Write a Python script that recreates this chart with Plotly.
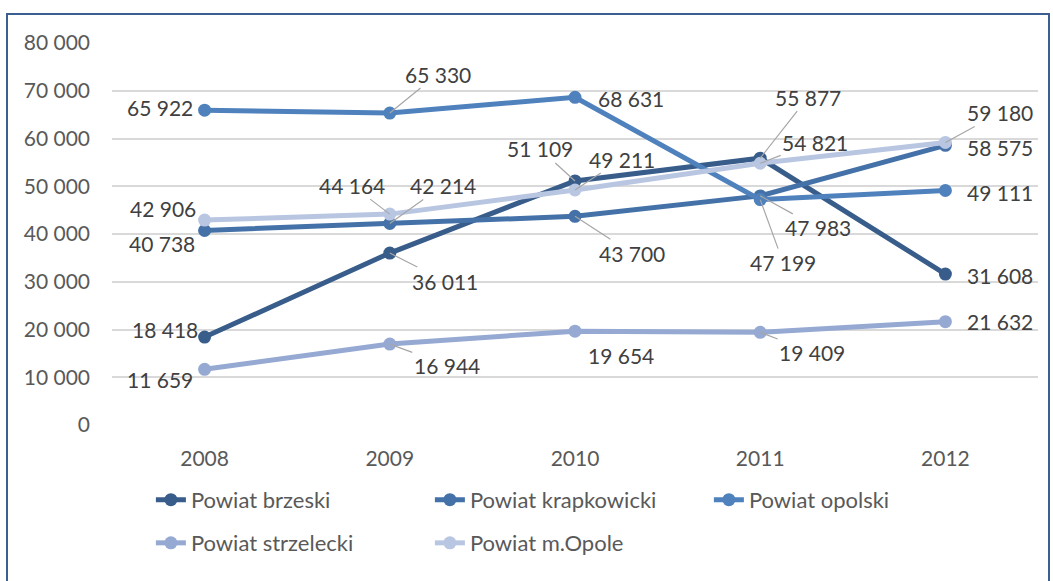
import plotly.graph_objects as go

years = ["2008", "2009", "2010", "2011", "2012"]
series_names = ["Powiat brzeski", "Powiat krapkowicki", "Powiat opolski",
                "Powiat strzelecki", "Powiat m.Opole"]
brzeski = [18418, 36011, 51109, 55877, 31608]
krapkowicki = [40738, 42214, 43700, 47983, 58575]
opolski = [65922, 65330, 68631, 47199, 49111]
strzelecki = [11659, 16944, 19654, 19409, 21632]
m_opole = [42906, 44164, 49211, 54821, 59180]
y_ticks = [0, 10000, 20000, 30000, 40000, 50000, 60000, 70000, 80000]

values = [brzeski, krapkowicki, opolski, strzelecki, m_opole]
colors = ["#385D8A", "#4471A7", "#4F81BD", "#95A9D3", "#B9C6E2"]
legend_ids = ["legend", "legend", "legend", "legend2", "legend2"]

# label placement (pixel offsets of label centre from the point; leader line flag)
label_offsets = [
    [(-40, -8, False), (55, 28, True), (-35, -32, True), (48, -61, True), (55, 1, False)],
    [(-43, 13, False), (53, -38, True), (57, 37, True), (58, 32, True), (55, 2, False)],
    [(-45, -3, False), (48, -39, True), (56, 1, False), (23, 63, True), (55, 2, False)],
    [(-45, 10, False), (57, 21, True), (46, 24, False), (52, 20, True), (55, 0, False)],
    [(-42, -12, False), (-38, -29, True), (47, -31, True), (55, -21, True), (55, -30, True)],
]

FONT = "Lato, 'Open Sans', sans-serif"
LABEL_COLOR = "#404040"
AXIS_COLOR = "#595959"

def fmt(v):
    return f"{v:,}".replace(",", " ")

fig = go.Figure()
for name, vals, col, lg in zip(series_names, values, colors, legend_ids):
    fig.add_trace(go.Scatter(
        x=years, y=vals, name=name, mode="lines+markers",
        line=dict(color=col, width=5),
        marker=dict(color=col, size=13),
        legend=lg,
    ))

annotations = []
for vals, offs in zip(values, label_offsets):
    for i, (v, (dx, dy, leader)) in enumerate(zip(vals, offs)):
        if leader:
            annotations.append(dict(
                x=i, y=v, xref="x", yref="y", text=fmt(v),
                showarrow=True, ax=dx, ay=dy, axref="pixel", ayref="pixel",
                arrowhead=0, arrowwidth=1.2, arrowcolor="#A6A6A6", standoff=0,
                font=dict(family=FONT, size=21, color=LABEL_COLOR),
            ))
        else:
            annotations.append(dict(
                x=i, y=v, xref="x", yref="y", text=fmt(v),
                showarrow=False, xshift=dx, yshift=-dy,
                font=dict(family=FONT, size=21, color=LABEL_COLOR),
            ))

fig.update_layout(
    width=1053, height=581,
    margin=dict(l=112, r=15, t=43, b=156, autoexpand=False),
    paper_bgcolor="white", plot_bgcolor="white",
    font=dict(family=FONT, size=21, color=AXIS_COLOR),
    xaxis=dict(
        type="category", range=[-0.5, 4.5], showgrid=False, zeroline=False,
        showline=False, ticks="", ticklabelstandoff=19,
        tickfont=dict(family=FONT, size=21, color=AXIS_COLOR),
    ),
    yaxis=dict(
        range=[0, 80000], tickvals=y_ticks, ticktext=[fmt(t) for t in y_ticks],
        showgrid=True, gridcolor="#D9D9D9", gridwidth=1.5, zeroline=False,
        showline=False, ticks="", ticklabelstandoff=21,
        tickfont=dict(family=FONT, size=21, color=AXIS_COLOR),
    ),
    legend=dict(
        orientation="h", x=0.042, y=-0.196, xanchor="left", yanchor="middle",
        entrywidth=234, entrywidthmode="pixels",
        font=dict(family=FONT, size=22, color=AXIS_COLOR),
        bgcolor="rgba(0,0,0,0)",
    ),
    legend2=dict(
        orientation="h", x=0.042, y=-0.309, xanchor="left", yanchor="middle",
        entrywidth=234, entrywidthmode="pixels",
        font=dict(family=FONT, size=22, color=AXIS_COLOR),
        bgcolor="rgba(0,0,0,0)",
    ),
    annotations=annotations,
    shapes=[dict(
        type="rect", xref="paper", yref="paper",
        x0=(7 - 112) / 926, x1=(1049 - 112) / 926,
        y0=(425 - 600) / 382, y1=(425 - 14) / 382,
        line=dict(color="#3B5F8F", width=2), fillcolor="rgba(0,0,0,0)",
        layer="below",
    )],
)

fig.write_html("out.html", config={"displayModeBar": False},
               post_script="document.body.style.margin='0';")
